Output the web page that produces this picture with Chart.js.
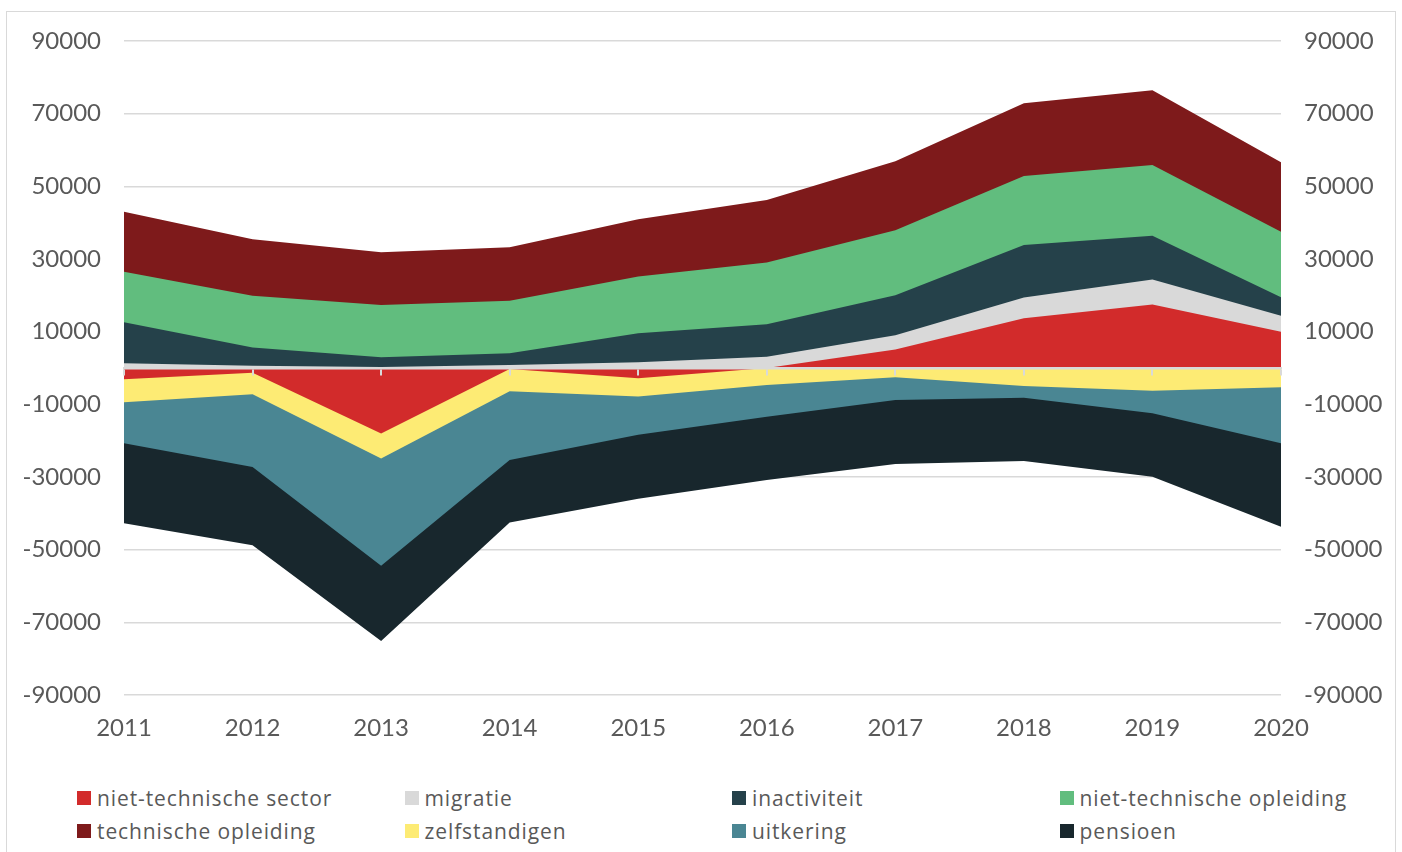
<!DOCTYPE html>
<html>
<head>
<meta charset="utf-8">
<script src="https://cdn.jsdelivr.net/npm/chart.js@4/dist/chart.umd.min.js"></script>
<style>
  html, body { margin: 0; padding: 0; background: #fff; }
  #wrap { position: relative; width: 1402px; height: 852px; overflow: hidden; }
  #frame { position: absolute; left: 6px; top: 11px; width: 1390px; height: 860px;
           border: 1.5px solid #D9D9D9; box-sizing: border-box; }
  #c { position: absolute; left: 0; top: 0; }
  #legend { position: absolute; left: 77px; top: 781px; display: grid;
            grid-template-columns: repeat(4, 327.5px); grid-auto-rows: 33px;
            font-family: "Open Sans", Lato, sans-serif; font-size: 21px; letter-spacing: 0.9px;
            color: #595959; }
  .item { display: flex; align-items: center; white-space: nowrap; }
  .box { width: 14px; height: 14px; margin-right: 6px; flex: none; }
</style>
</head>
<body>
<div id="wrap">
  <div id="frame"></div>
  <canvas id="c" width="1402" height="760"></canvas>
  <div id="legend"></div>
</div>
<script>
// Years on the horizontal axis
const years = ['2011','2012','2013','2014','2015','2016','2017','2018','2019','2020'];

// Inflow (positive) and outflow (negative) per source, by year
const nietTechnischeSector   = [-3100, -1300, -18000,  -300, -2800,     0,   5100,  13700,  17500,  10000];
const migratie               = [ 1300,   600,    300,   800,  1600,  3100,   3940,   5680,   6870,   4400];
const inactiviteit           = [11270,  5060,   2640,  3240,  7970,  8910,  11010,  14500,  12020,   5050];
const nietTechnischeOpleiding= [13930, 14210,  14400, 14490, 15590, 17060,  17890,  18990,  19450,  18070];
const technischeOpleiding    = [16500, 15600,  14490, 14670, 15790, 17150,  18980,  20010,  20630,  19080];
const zelfstandigen          = [-6330, -5950,  -6880, -6100, -5050, -4680,  -2560,  -4950,  -6240,  -5320];
const uitkering              = [-11280,-20000, -29550,-18900,-10550, -8720,  -6250,  -3220,  -6240, -15410];
const pensioen               = [-22020,-21550, -20730,-17250,-17610,-17420, -17610, -17420, -17430, -22940];

// Gridline / label values of the value axis
const yTicks = [-90000, -70000, -50000, -30000, -10000, 10000, 30000, 50000, 70000, 90000];

const series = [
  { label: 'niet-technische sector',    data: nietTechnischeSector,    color: '#D22B2B' },
  { label: 'migratie',                  data: migratie,                color: '#D9D9D9' },
  { label: 'inactiviteit',              data: inactiviteit,            color: '#25414A' },
  { label: 'niet-technische opleiding', data: nietTechnischeOpleiding, color: '#61BD7E' },
  { label: 'technische opleiding',      data: technischeOpleiding,     color: '#7E1A1B' },
  { label: 'zelfstandigen',             data: zelfstandigen,           color: '#FDEB74' },
  { label: 'uitkering',                 data: uitkering,               color: '#4A8693' },
  { label: 'pensioen',                  data: pensioen,                color: '#18272D' }
];

const FONT = 'Lato, "Open Sans", sans-serif';
const TEXT = '#595959';
const GRID = '#D9D9D9';

const tickFont = { family: FONT, size: 24 };
const setTicks = s => { s.ticks = yTicks.map(v => ({ value: v })); };
const plain = v => String(v);

new Chart(document.getElementById('c'), {
  type: 'line',
  data: {
    labels: years,
    datasets: series.map(s => ({
      label: s.label,
      data: s.data,
      backgroundColor: s.color,
      borderColor: s.color,
      borderWidth: 0,
      pointRadius: 0,
      pointHoverRadius: 0,
      tension: 0,
      fill: 'origin',
      yAxisID: 'y'
    }))
  },
  options: {
    responsive: false,
    animation: false,
    events: [],
    layout: { padding: { top: 41, left: 0, right: 0, bottom: 0 } },
    plugins: { legend: { display: false }, tooltip: { enabled: false } },
    scales: {
      x: {
        position: 'bottom',
        offset: false,
        grid: { display: false, drawTicks: false },
        border: { display: false },
        ticks: { color: TEXT, font: tickFont, padding: 19, maxRotation: 0 },
        afterFit: s => { s.height = 65; }
      },
      // zero line with short tick marks, painted over the areas
      xZero: {
        type: 'category',
        labels: years,
        position: { y: 0 },
        offset: false,
        grid: { drawOnChartArea: false, drawTicks: true, tickLength: 6, color: GRID, lineWidth: 2, z: 1 },
        border: { display: true, color: GRID, width: 2.5, z: 1 },
        ticks: { display: false }
      },
      y: {
        position: 'left',
        stacked: true,
        min: -90000,
        max: 90000,
        afterBuildTicks: setTicks,
        grid: { color: GRID, lineWidth: 1.5, drawTicks: false },
        border: { display: false },
        ticks: { color: TEXT, font: tickFont, padding: 23, callback: plain },
        afterFit: s => { s.width = 124; }
      },
      yRight: {
        position: 'right',
        min: -90000,
        max: 90000,
        afterBuildTicks: setTicks,
        grid: { display: false, drawTicks: false },
        border: { display: false },
        ticks: { color: TEXT, font: tickFont, padding: 23, callback: plain },
        afterFit: s => { s.width = 121; }
      }
    }
  }
});

// Four-column legend built from the series list
const legend = document.getElementById('legend');
series.forEach(s => {
  const item = document.createElement('div');
  item.className = 'item';
  const box = document.createElement('span');
  box.className = 'box';
  box.style.background = s.color;
  const txt = document.createElement('span');
  txt.textContent = s.label;
  item.appendChild(box);
  item.appendChild(txt);
  legend.appendChild(item);
});
</script>
</body>
</html>
